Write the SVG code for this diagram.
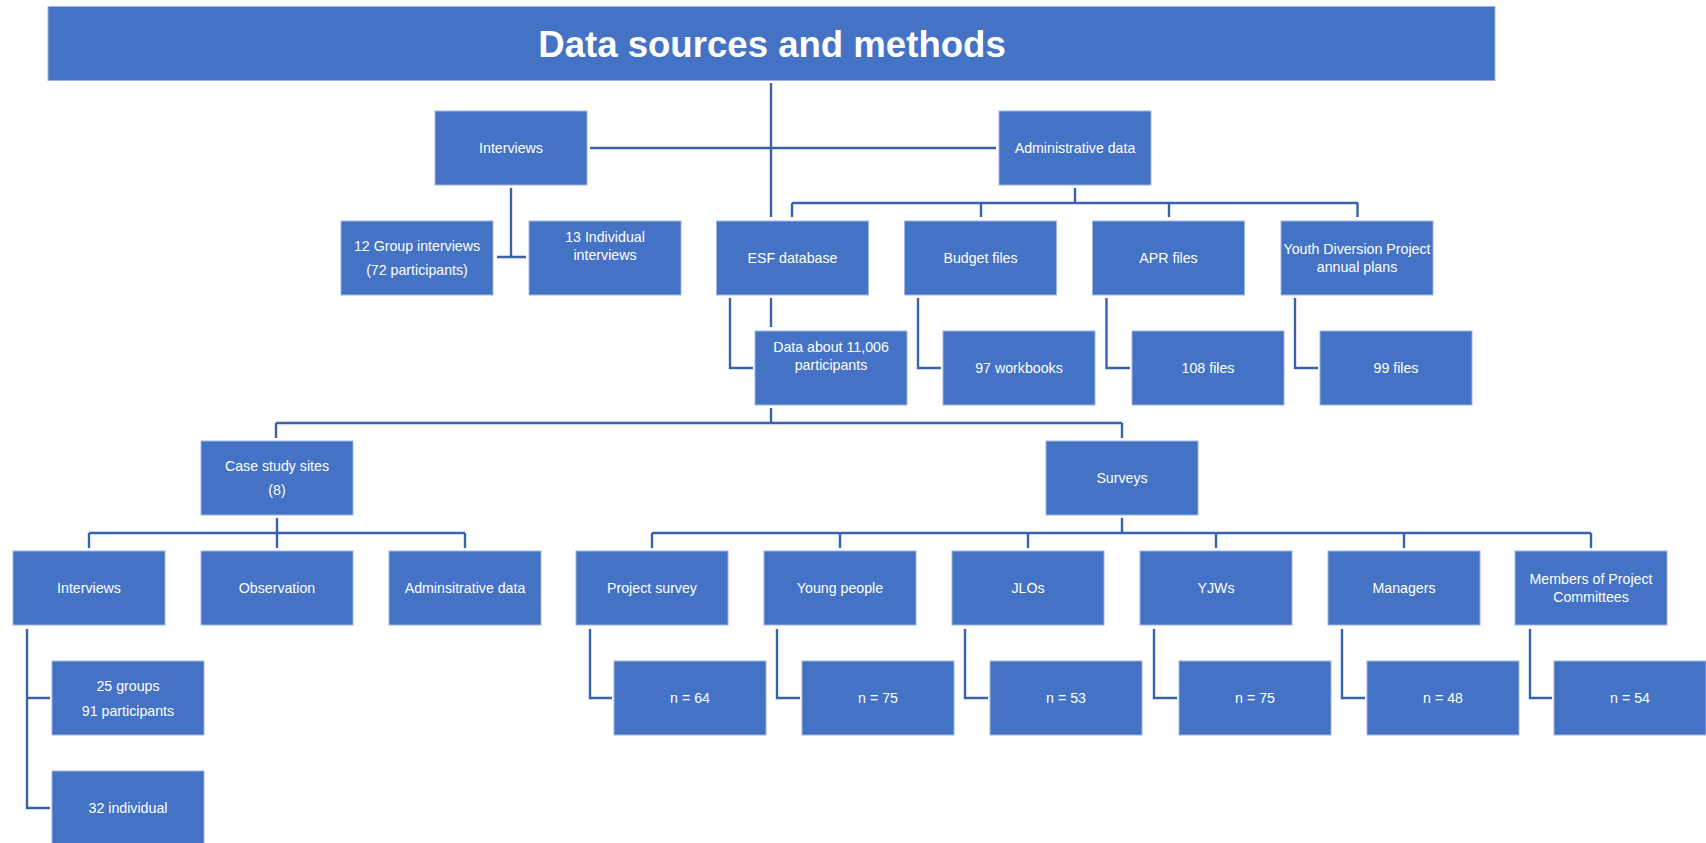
<svg xmlns="http://www.w3.org/2000/svg" width="1706" height="843" viewBox="0 0 1706 843">
<style>
.box{fill:#4472C4;stroke:#9DB5E2;stroke-width:1}
.t{font-family:"Liberation Sans",Arial,sans-serif;font-size:14.2px;fill:#FFFFFF;text-anchor:middle}
.title{font-family:"Liberation Sans",Arial,sans-serif;font-size:36.6px;font-weight:bold;fill:#FFFFFF;text-anchor:middle}
.c{fill:none;stroke:#3862AC;stroke-width:2.4;stroke-linecap:butt;stroke-linejoin:miter}
</style>
<rect width="1706" height="843" fill="#FFFFFF"/>
<g id="connectors">
<path class="c" d="M771,83V217"/>
<path class="c" d="M590,148H996"/>
<path class="c" d="M511,188V257M497,257H526"/>
<path class="c" d="M1075,188V203M792,203H1358M792,203V217M981,203V217M1169,203V217M1357.5,203V217"/>
<path class="c" d="M771,298V327M730,298V368H753"/>
<path class="c" d="M918,298V368H941"/>
<path class="c" d="M1106.5,298V368H1130"/>
<path class="c" d="M1295,298V368H1318"/>
<path class="c" d="M771,408V423M276,423H1122M276,423V438M1122,423V438"/>
<path class="c" d="M277,518V533M89,533H465M89,533V548M277,533V548M465,533V548"/>
<path class="c" d="M1122,518V533M652,533H1591M652,533V548M840,533V548M1028,533V548M1216,533V548M1404,533V548M1591,533V548"/>
<path class="c" d="M27,629V808H50M27,698H50"/>
<path class="c" d="M590,629V698H612"/>
<path class="c" d="M777,629V698H800"/>
<path class="c" d="M965,629V698H988"/>
<path class="c" d="M1154,629V698H1177"/>
<path class="c" d="M1342,629V698H1365"/>
<path class="c" d="M1530,629V698H1552"/>
</g>
<g id="title"><rect class="box" x="48" y="6.5" width="1447" height="74"/><text class="title" x="772" y="57">Data sources and methods</text></g>
<g id="interviews"><rect class="box" x="435" y="111" width="152" height="74"/><text class="t" x="511" y="153">Interviews</text></g>
<g id="admin"><rect class="box" x="999" y="111" width="152" height="74"/><text class="t" x="1075" y="153">Administrative data</text></g>
<g id="group-interviews"><rect class="box" x="341" y="221" width="152" height="74"/><text class="t" x="417" y="251">12 Group interviews</text><text class="t" x="417" y="275">(72 participants)</text></g>
<g id="individual-interviews"><rect class="box" x="529" y="221" width="152" height="74"/><text class="t" x="605" y="242">13 Individual</text><text class="t" x="605" y="260">interviews</text></g>
<g id="esf"><rect class="box" x="716.5" y="221" width="152" height="74"/><text class="t" x="792.5" y="263">ESF database</text></g>
<g id="budget"><rect class="box" x="904.5" y="221" width="152" height="74"/><text class="t" x="980.5" y="263">Budget files</text></g>
<g id="apr"><rect class="box" x="1092.5" y="221" width="152" height="74"/><text class="t" x="1168.5" y="263">APR files</text></g>
<g id="youth"><rect class="box" x="1281" y="221" width="152" height="74"/><text class="t" x="1357" y="254">Youth Diversion Project</text><text class="t" x="1357" y="272">annual plans</text></g>
<g id="data-about"><rect class="box" x="755" y="331" width="152" height="74"/><text class="t" x="831" y="352">Data about 11,006</text><text class="t" x="831" y="370">participants</text></g>
<g id="workbooks"><rect class="box" x="943" y="331" width="152" height="74"/><text class="t" x="1019" y="373">97 workbooks</text></g>
<g id="apr-files"><rect class="box" x="1132" y="331" width="152" height="74"/><text class="t" x="1208" y="373">108 files</text></g>
<g id="plans-files"><rect class="box" x="1320" y="331" width="152" height="74"/><text class="t" x="1396" y="373">99 files</text></g>
<g id="case-study"><rect class="box" x="201" y="441" width="152" height="74"/><text class="t" x="277" y="471">Case study sites</text><text class="t" x="277" y="495">(8)</text></g>
<g id="surveys"><rect class="box" x="1046" y="441" width="152" height="74"/><text class="t" x="1122" y="483">Surveys</text></g>
<g id="cs-interviews"><rect class="box" x="13" y="551" width="152" height="74"/><text class="t" x="89" y="593">Interviews</text></g>
<g id="observation"><rect class="box" x="201" y="551" width="152" height="74"/><text class="t" x="277" y="593">Observation</text></g>
<g id="cs-admin"><rect class="box" x="389" y="551" width="152" height="74"/><text class="t" x="465" y="593">Adminsitrative data</text></g>
<g id="project-survey"><rect class="box" x="576" y="551" width="152" height="74"/><text class="t" x="652" y="593">Project survey</text></g>
<g id="young-people"><rect class="box" x="764" y="551" width="152" height="74"/><text class="t" x="840" y="593">Young people</text></g>
<g id="jlos"><rect class="box" x="952" y="551" width="152" height="74"/><text class="t" x="1028" y="593">JLOs</text></g>
<g id="yjws"><rect class="box" x="1140" y="551" width="152" height="74"/><text class="t" x="1216" y="593">YJWs</text></g>
<g id="managers"><rect class="box" x="1328" y="551" width="152" height="74"/><text class="t" x="1404" y="593">Managers</text></g>
<g id="members"><rect class="box" x="1515" y="551" width="152" height="74"/><text class="t" x="1591" y="584">Members of Project</text><text class="t" x="1591" y="602">Committees</text></g>
<g id="groups"><rect class="box" x="52" y="661" width="152" height="74"/><text class="t" x="128" y="691">25 groups</text><text class="t" x="128" y="716">91 participants</text></g>
<g id="individual"><rect class="box" x="52" y="771" width="152" height="80"/><text class="t" x="128" y="813">32 individual</text></g>
<g id="n-project"><rect class="box" x="614" y="661" width="152" height="74"/><text class="t" x="690" y="703">n = 64</text></g>
<g id="n-young"><rect class="box" x="802" y="661" width="152" height="74"/><text class="t" x="878" y="703">n = 75</text></g>
<g id="n-jlos"><rect class="box" x="990" y="661" width="152" height="74"/><text class="t" x="1066" y="703">n = 53</text></g>
<g id="n-yjws"><rect class="box" x="1179" y="661" width="152" height="74"/><text class="t" x="1255" y="703">n = 75</text></g>
<g id="n-managers"><rect class="box" x="1367" y="661" width="152" height="74"/><text class="t" x="1443" y="703">n = 48</text></g>
<g id="n-members"><rect class="box" x="1554" y="661" width="152" height="74"/><text class="t" x="1630" y="703">n = 54</text></g>
</svg>
